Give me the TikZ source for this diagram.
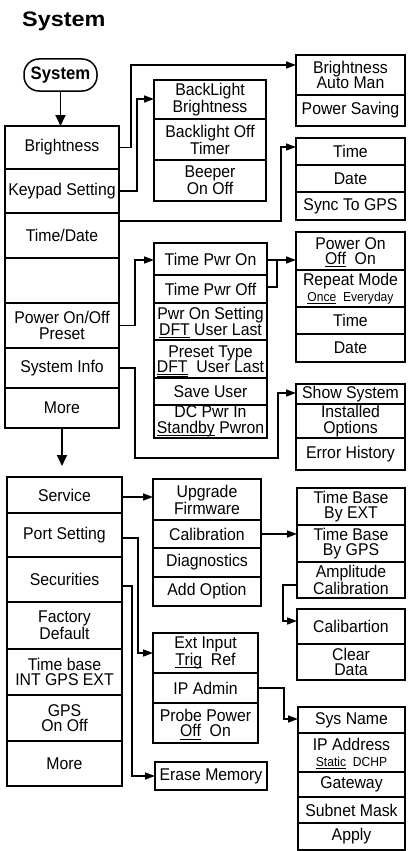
\documentclass[tikz,border=0pt]{standalone}
\usepackage{fontspec}
\setmainfont{Liberation Sans}[FakeStretch=0.93]
\usetikzlibrary{arrows.meta}
\newcommand\mkcell[6]{\node[cell, minimum width={#4-#2}, minimum height={#5-#3}, anchor=north west] (#1) at (#2,#3) {#6};}
\newcommand\sm[1]{{\fontsize{13}{13}\selectfont #1}}
\newcommand\ul[1]{\setbox0\hbox{#1}\rlap{\smash{\rule[-2.6pt]{\wd0}{0.9pt}}}\box0\relax}
\newcommand\dul[1]{\setbox0\hbox{#1}\rlap{\smash{\rule[-2.2pt]{\wd0}{0.7pt}}}\rlap{\smash{\rule[-4.0pt]{\wd0}{0.7pt}}}\box0\relax}
\begin{document}
\begin{tikzpicture}[x=1pt,y=-1pt,
 cell/.style={draw, line width=1.8pt, inner sep=0pt, outer sep=0pt, align=center, font=\fontsize{17}{15.5}\selectfont},
 conn/.style={line width=1.5pt, -{Triangle[length=10pt,width=7pt]}},
 link/.style={line width=1.5pt},
 down/.style={line width=1.8pt, -{Triangle[length=11pt,width=10pt]}}]
\useasboundingbox (0,0) rectangle (407,851);
\node[anchor=base west, inner sep=0pt, font=\bfseries\fontsize{21}{20}\selectfont] (title) at (22,27) {\scalebox{1.2}[1]{System}};
\node[draw, line width=1.5pt, rounded corners=15pt, minimum width=73, minimum height=32, inner sep=0pt, font=\bfseries\fontsize{18}{17}\selectfont] (oval) at (60.5,75) {System};
% left column top
\mkcell{brt}{5}{126}{119}{169}{Brightness}
\mkcell{key}{5}{169}{119}{213}{Keypad Setting}
\mkcell{tdt}{5}{213}{119}{258}{Time/Date}
\mkcell{blank}{5}{258}{119}{303}{}
\mkcell{pwr}{5}{303}{119}{348}{Power On/Off\\Preset}
\mkcell{sinfo}{5}{348}{119}{388}{System Info}
\mkcell{more1}{5}{388}{119}{428}{More}
% backlight
\mkcell{bl1}{154}{80}{266}{119}{BackLight\\Brightness}
\mkcell{bl2}{154}{119}{266}{160}{Backlight Off\\Timer}
\mkcell{bl3}{154}{160}{266}{201}{Beeper\\On Off}
% brightness
\mkcell{bam}{296}{55}{405}{95}{Brightness\\Auto Man}
\mkcell{psv}{296}{95}{405}{126}{Power Saving}
% time
\mkcell{t1}{296}{138}{405}{165}{Time}
\mkcell{t2}{296}{165}{405}{192}{Date}
\mkcell{t3}{296}{192}{405}{220}{Sync To GPS}
% time pwr
\mkcell{tp1}{154}{243}{267}{275}{Time Pwr On}
\mkcell{tp2}{154}{275}{267}{303}{Time Pwr Off}
\mkcell{tp3}{154}{303}{267}{340}{Pwr On Setting\\\dul{DFT} User Last}
\mkcell{tp4}{154}{340}{267}{378}{Preset Type\\\dul{DFT}\ \ User Last}
\mkcell{tp5}{154}{378}{267}{405}{Save User}
\mkcell{tp6}{154}{405}{267}{438}{DC Pwr In\\\ul{Standby} Pwron}
% power on
\mkcell{po1}{296}{232}{405}{270}{Power On\\\ul{Off}\ \ On}
\mkcell{po2}{296}{270}{405}{307}{Repeat Mode\\\sm{\ul{Once}\ \ Everyday}}
\mkcell{po3}{296}{307}{405}{334}{Time}
\mkcell{po4}{296}{334}{405}{362}{Date}
% show system
\mkcell{ss1}{296}{384}{405}{404}{Show System}
\mkcell{ss2}{296}{404}{405}{438}{Installed\\Options}
\mkcell{ss3}{296}{438}{405}{470}{Error History}
% lower left column
\mkcell{svc}{7}{477}{122}{513}{Service}
\mkcell{port}{7}{513}{122}{557}{Port Setting}
\mkcell{sec}{7}{557}{122}{602}{Securities}
\mkcell{fac}{7}{602}{122}{649}{Factory\\Default}
\mkcell{tbase}{7}{649}{122}{695}{Time base\\INT GPS EXT}
\mkcell{gps}{7}{695}{122}{741}{GPS\\On Off}
\mkcell{more2}{7}{741}{122}{786}{More}
% upgrade
\mkcell{up1}{153}{479}{261}{520}{Upgrade\\Firmware}
\mkcell{up2}{153}{520}{261}{548}{Calibration}
\mkcell{up3}{153}{548}{261}{577}{Diagnostics}
\mkcell{up4}{153}{577}{261}{606}{Add Option}
% time base
\mkcell{tb1}{297}{488}{405}{525}{Time Base\\By EXT}
\mkcell{tb2}{297}{525}{405}{562}{Time Base\\By GPS}
\mkcell{tb3}{297}{562}{405}{598}{Amplitude\\Calibration}
% calibartion
\mkcell{cb1}{297}{609}{405}{644}{Calibartion}
\mkcell{cb2}{297}{644}{405}{680}{Clear\\Data}
% ext input
\mkcell{ex1}{153}{633}{258}{673}{Ext Input\\\ul{Trig}\ \ Ref}
\mkcell{ex2}{153}{673}{258}{703}{IP Admin}
\mkcell{ex3}{153}{703}{258}{743}{Probe Power\\\ul{Off}\ \ On}
% erase
\mkcell{erase}{155}{762}{267}{790}{Erase Memory}
% sys name
\mkcell{sn1}{298}{707}{405}{733}{Sys Name}
\mkcell{sn2}{298}{733}{405}{772}{IP Address\\\sm{\ul{Static}\ \ DCHP}}
\mkcell{sn3}{298}{772}{405}{797}{Gateway}
\mkcell{sn4}{298}{797}{405}{823}{Subnet Mask}
\mkcell{sn5}{298}{823}{405}{850}{Apply}
% connectors
\draw[down] (oval.south) -- (oval.south |- brt.north);
\draw[down, shorten >=11pt] (more1.south) -- (more1.south |- svc.north);
\draw[conn] (brt.east) -| (131,65) -- (bam.west |- 0,65);
\draw[conn] (key.east) -| (137,99) -- (bl1.west |- 0,99);
\draw[conn] (tdt.east |- 0,221) -| (281,147) -- (t1.west |- 0,147);
\draw[conn] (pwr.east) -| (135,260) -- (tp1.west |- 0,260);
\draw[conn] (tp1.east |- 0,260) -- (po1.west |- 0,260);
\draw[link] (tp2.east |- 0,287) -| (277,260);
\draw[conn] (sinfo.east) -| (135,458) -| (278,393) -- (ss1.west |- 0,393);
\draw[conn] (svc.east |- 0,497) -- (up1.west |- 0,497);
\draw[conn] (port.east |- 0,538) -| (138,653) -- (ex1.west |- 0,653);
\draw[conn] (sec.east |- 0,586) -| (132,776) -- (erase.west |- 0,776);
\draw[conn] (up2.east) -- (tb2.west |- up2.east);
\draw[conn] (tb3.west |- 0,585) -| (283,621) -- (cb1.west |- 0,621);
\draw[conn] (ex2.east) -| (284,719) -- (sn1.west |- 0,719);
\end{tikzpicture}
\end{document}
